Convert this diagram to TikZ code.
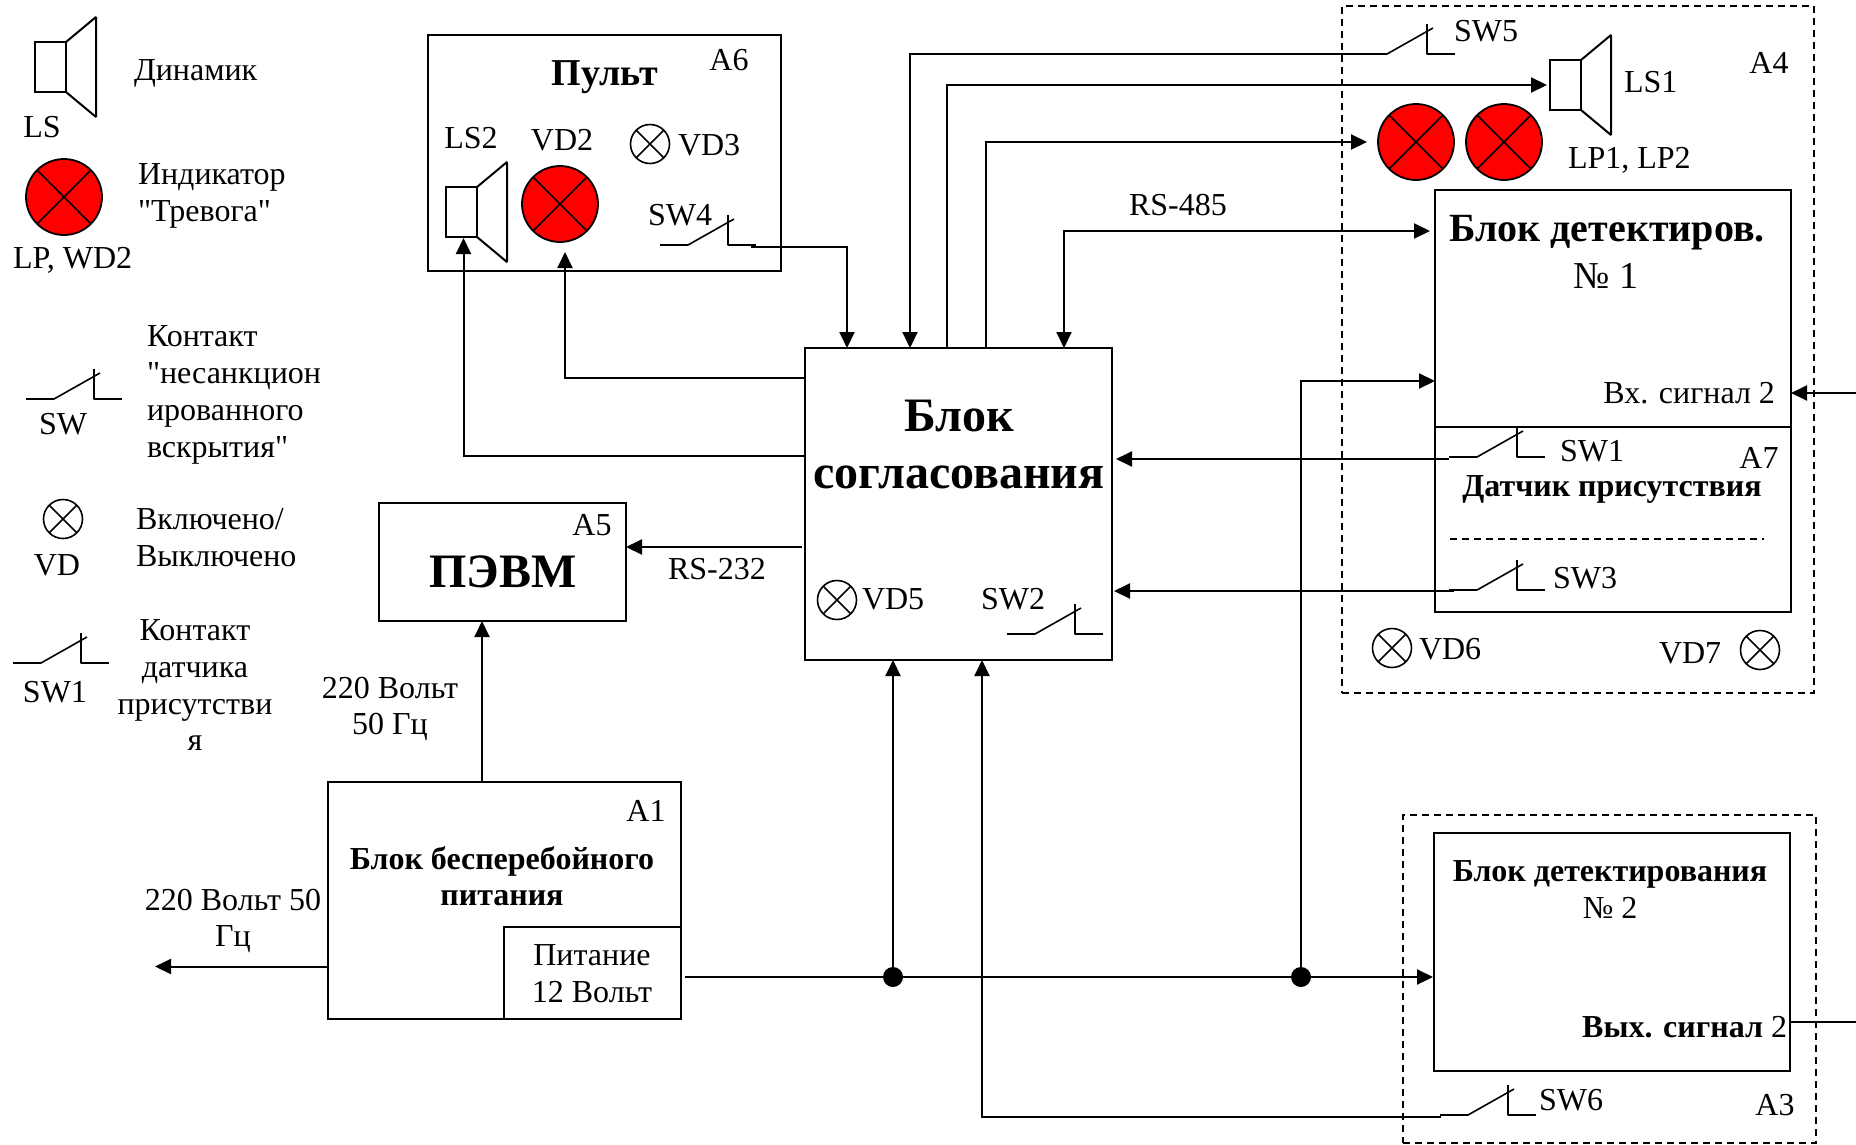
\documentclass[tikz,border=0pt]{standalone}
\usepackage{fontspec}
\setmainfont{Liberation Serif}[Ligatures=TeXOff]
\usetikzlibrary{arrows.meta}
\tikzset{
  blockbox/.style={draw=black,line width=2pt,inner sep=0pt,outer sep=0pt},
  dashbox/.style={draw=black,line width=1.8pt,dash pattern=on 7pt off 5pt,inner sep=0pt,outer sep=0pt},
  conn/.style={line width=2pt,-{Triangle[length=16pt,width=15pt]}},
  both/.style={line width=2pt,{Triangle[length=16pt,width=15pt]}-{Triangle[length=16pt,width=15pt]}},
  plain/.style={line width=2pt,line join=bevel},
  thinl/.style={line width=1.6pt,line join=bevel},
  txt/.style={inner sep=0pt,outer sep=0pt,anchor=base,font=\fontsize{32}{38}\selectfont},
  txtl/.style={txt,anchor=base west},
  txtr/.style={txt,anchor=base east},
  btxt/.style={txt,font=\fontsize{32}{38}\selectfont\bfseries},
  redlamp/.style={circle,draw=black,line width=1.8pt,fill=red,minimum size=76pt,inner sep=0pt,outer sep=0pt},
  lamp/.style={circle,draw=black,line width=1.6pt,fill=white,minimum size=39pt,inner sep=0pt,outer sep=0pt},
  dot/.style={circle,fill=black,minimum size=20pt,inner sep=0pt,outer sep=0pt},
  spkbox/.style={rectangle,draw=black,line width=2pt,minimum width=31pt,minimum height=50pt,inner sep=0pt,outer sep=0pt},
}
\newcommand\myspk[3]{% name, left x, top y of the box
  \node[spkbox,anchor=north west] (#1) at (#2,#3) {};
  \draw[plain] (#1.north east) -- ++(30pt,25pt) -- ++(0pt,-100pt) -- (#1.south east);
}
\newcommand\myred[3]{%
  \node[redlamp] (#1) at (#2,#3) {};
  \draw[thinl] (#1.45) -- (#1.225) (#1.135) -- (#1.315);
}
\newcommand\mylamp[3]{%
  \node[lamp] (#1) at (#2,#3) {};
  \draw[thinl] (#1.45) -- (#1.225) (#1.135) -- (#1.315);
}
\newcommand\myswitch[3]{% name, left x, y
  \coordinate (#1) at (#2,#3);
  \draw[thinl] (#1) -- ++(28pt,0pt) -- ++(46pt,26pt);
  \draw[thinl] ([shift={(68pt,30pt)}]#1) -- ([xshift=68pt]#1) -- ([xshift=96pt]#1);
}
\begin{document}
\begin{tikzpicture}[x=1pt,y=-1pt]
\useasboundingbox (0,0) rectangle (1856,1144);

% ---------- legend
\myspk{lgls}{35}{42}
\node[txt] (tls) at (42,137) {LS};
\node[txtl] (tdin) at (134,80) {Динамик};
\myred{lglp}{64}{197}
\node[txtl] (tlpw) at (13,268) {LP, WD2};
\node[txtl] (tind1) at (138,184) {Индикатор};
\node[txtl] (tind2) at (138,221) {"Тревога"};
\myswitch{lgsw}{26}{399}
\node[txt] (tsw) at (63,434) {SW};
\node[txtl] (tk1) at (147,346) {Контакт};
\node[txtl] (tk2) at (147,383) {"несанкцион};
\node[txtl] (tk3) at (147,420) {ированного};
\node[txtl] (tk4) at (147,457) {вскрытия"};
\mylamp{lgvd}{63}{519}
\node[txt] (tvd) at (57,575) {VD};
\node[txtl] (tv1) at (136,529) {Включено/};
\node[txtl] (tv2) at (136,566) {Выключено};
\myswitch{lgsw1}{13}{663}
\node[txt] (tsw1) at (55,702) {SW1};
\node[txt] (tc1) at (195,640) {Контакт};
\node[txt] (tc2) at (195,677) {датчика};
\node[txt] (tc3) at (195,714) {присутстви};
\node[txt] (tc4) at (195,750) {я};

% ---------- blocks
\node[blockbox,minimum width=353pt,minimum height=236pt] (a6) at (604.5,153) {};
\node[blockbox,minimum width=307pt,minimum height=312pt] (hub) at (958.5,504) {};
\node[blockbox,minimum width=247pt,minimum height=118pt] (a5) at (502.5,562) {};
\node[blockbox,minimum width=353pt,minimum height=237pt] (a1) at (504.5,900) {};
\node[blockbox,minimum width=177pt,minimum height=92pt] (ps) at (592.5,972.5) {};
\node[dashbox,minimum width=472pt,minimum height=687pt] (a4) at (1578,349.5) {};
\node[blockbox,minimum width=356pt,minimum height=237pt] (bd1) at (1613,308.5) {};
\node[blockbox,minimum width=356pt,minimum height=185pt] (a7) at (1613,519.5) {};
\node[dashbox,minimum width=413pt,minimum height=328pt] (a3) at (1609.5,979) {};
\node[blockbox,minimum width=356pt,minimum height=238pt] (bd2) at (1612,952) {};

% ---------- A6
\node[btxt,font=\fontsize{38}{42}\selectfont\bfseries] (tpult) at (605,85) {Пульт};
\node[txt] (ta6) at (729,70) {А6};
\node[txt] (tls2) at (471,148) {LS2};
\myspk{ls2}{446}{187}
\myred{vd2}{560}{204}
\node[txt] (tvd2) at (562,150) {VD2};
\mylamp{vd3}{650}{144}
\node[txtl] (tvd3) at (678,155) {VD3};
\node[txtl] (tsw4) at (648,225) {SW4};
\myswitch{sw4}{660}{245}

% ---------- hub
\node[txt,font=\fontsize{48}{52}\selectfont\bfseries] (thub1) at (959,431) {Блок};
\node[txt,font=\fontsize{48}{52}\selectfont\bfseries] (thub2) at (959,488) {согласования};
\mylamp{vd5}{837}{600}
\node[txtl] (tvd5) at (862,609) {VD5};
\node[txtl] (tsw2) at (981,609) {SW2};
\myswitch{sw2}{1007}{634}

% ---------- A5
\node[txt,font=\fontsize{48}{52}\selectfont\bfseries] (tpc) at (503,587) {ПЭВМ};
\node[txt] (ta5) at (592,535) {А5};
\node[txt] (trs232) at (717,579) {RS-232};

% ---------- A1
\node[txt] (ta1) at (646,821) {А1};
\node[btxt] (ta11) at (502,869) {Блок бесперебойного};
\node[btxt] (ta12) at (502,905) {питания};
\node[txt] (tps1) at (592,965) {Питание};
\node[txt] (tps2) at (592,1002) {12 Вольт};
\node[txt] (t2201) at (390,698) {220 Вольт};
\node[txt] (t2202) at (390,734) {50 Гц};
\node[txt] (t2203) at (233,910) {220 Вольт 50};
\node[txt] (t2204) at (233,946) {Гц};

% ---------- A4
\node[txt] (ta4) at (1769,73) {А4};
\myswitch{sw5}{1359}{54}
\node[txtl] (tsw5) at (1454,41) {SW5};
\myspk{ls1}{1550}{60}
\node[txtl] (tls1) at (1624,92) {LS1};
\myred{lp1}{1416}{142}
\myred{lp2}{1504}{142}
\node[txtl] (tlp) at (1568,168) {LP1, LP2};
\node[txt] (trs485) at (1178,215) {RS-485};
\node[btxt,font=\fontsize{40}{44}\selectfont\bfseries] (tbd11) at (1607,241) {Блок детектиров.};
\node[txt,font=\fontsize{38}{42}\selectfont] (tbd12) at (1606,288) {№ 1};
\node[txtr] (tin) at (1775,403) {Вх. сигнал 2};
\myswitch{sw1}{1449}{457}
\node[txtl] (tsw1b) at (1560,461) {SW1};
\node[txt] (ta7) at (1759,468) {А7};
\node[btxt] (tdat) at (1612,496) {Датчик присутствия};
\coordinate (da) at (1450,539);
\coordinate (db) at (1764,539);
\draw[line width=1.4pt,dash pattern=on 7pt off 5pt] (da) -- (db);
\myswitch{sw3}{1449}{590}
\node[txtl] (tsw3) at (1553,588) {SW3};
\mylamp{vd6}{1392}{648}
\node[txtl] (tvd6) at (1419,659) {VD6};
\node[txtl] (tvd7) at (1659,663) {VD7};
\mylamp{vd7}{1760}{650}

% ---------- A3
\node[btxt] (tbd21) at (1610,881) {Блок детектирования};
\node[txt] (tbd22) at (1610,918) {№ 2};
\node[txtr] (tout) at (1787,1037) {\textbf{Вых. сигнал} 2};
\myswitch{sw6}{1440}{1115}
\node[txtl] (tsw6) at (1539,1110) {SW6};
\node[txt] (ta3) at (1775,1115) {А3};

% ---------- junctions
\node[dot] (j1) at (893,977) {};
\node[dot] (j2) at (1301,977) {};

% ---------- free ends
\coordinate (sw4e) at (751,247);
\coordinate (sw5s) at (1367,54);
\coordinate (sw1s) at (1449,459);
\coordinate (sw3s) at (1454,591);
\coordinate (sw6s) at (1441,1117);
\coordinate (inr) at (1856,393);
\coordinate (outr) at (1856,1022);

% ---------- connectors
\draw[conn] ([yshift=48pt]hub.west) -| ([shift={(2pt,-1pt)}]ls2.south);
\draw[conn] ([yshift=126pt]hub.west) -| ([shift={(5pt,-10pt)}]vd2.south);
\draw[conn] (sw4e) -| ([xshift=-111.5pt]hub.north);
\draw[conn] (sw5s) -| ([xshift=-48.5pt]hub.north);
\draw[conn] ([xshift=-11.5pt]hub.north) |- ([xshift=-3pt]ls1.west);
\draw[conn] ([xshift=27.5pt]hub.north) |- ([xshift=-11pt]lp1.west);
\draw[both] ([xshift=105.5pt]hub.north) |- ([shift={(-5pt,77.5pt)}]bd1.west);
\draw[conn] ([shift={(-3pt,-43pt)}]hub.west) -- ([yshift=-43pt]hub.west -| a5.east);
\draw[conn] ([xshift=-22.5pt]a1.north) -- ([xshift=-20.5pt]a5.south);
\draw[conn] ([yshift=-66.5pt]a1.west) -- ++(-173pt,0pt);
\draw[conn] ([shift={(4pt,-4.5pt)}]ps.east) -- ([shift={(-1pt,-25pt)}]bd2.west);
\draw[conn] (j1) -- (hub.south -| j1);
\draw[conn] (j2) |- ([yshift=-72.5pt]bd1.west);
\draw[conn] (sw6s) -| ([xshift=23.5pt]hub.south);
\draw[conn] (sw1s) -- ([xshift=4pt]sw1s -| hub.east);
\draw[conn] (sw3s) -- ([xshift=2pt]sw3s -| hub.east);
\draw[conn] (inr) -- (inr -| bd1.east);
\draw[thinl] (bd2.east |- outr) -- (outr);
\end{tikzpicture}
\end{document}
